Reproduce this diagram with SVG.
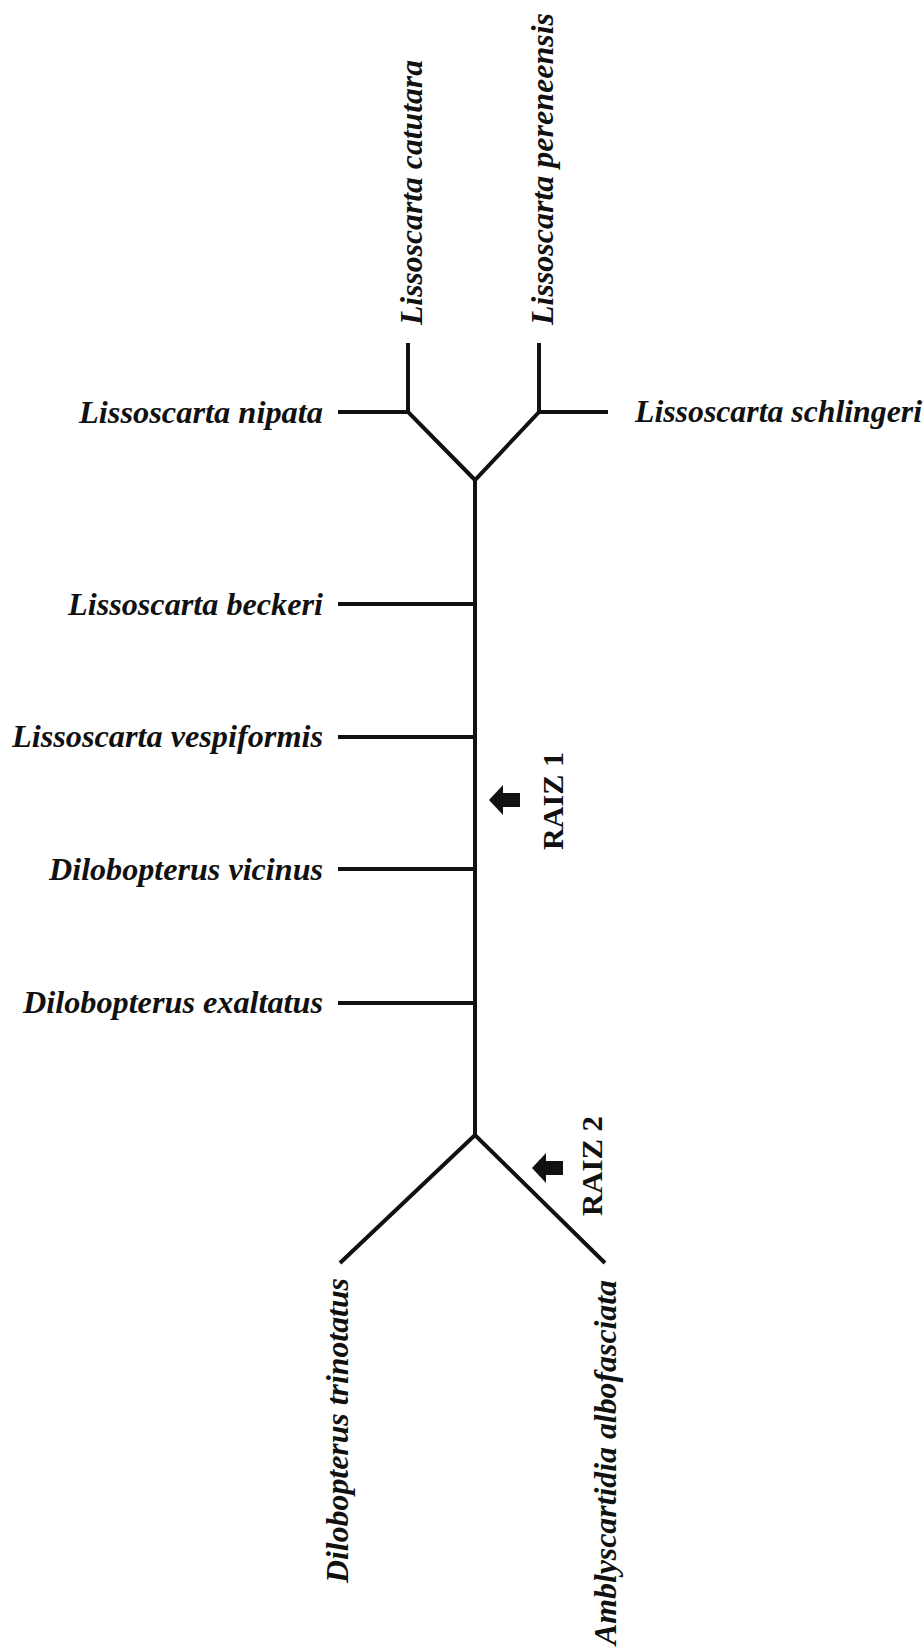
<svg xmlns="http://www.w3.org/2000/svg" width="924" height="1649" viewBox="0 0 924 1649">
  <style>
    .taxon { font-family: "Liberation Serif", "Times New Roman", serif; font-size: 32px; font-weight: bold; font-style: italic; fill: #111; }
    .root { font-family: "Liberation Serif", "Times New Roman", serif; font-size: 30px; font-weight: bold; fill: #111; }
    .branch { stroke: #111; stroke-width: 4; fill: none; stroke-linejoin: miter; stroke-linecap: butt; }
    .pointer { fill: #111; }
  </style>
  <defs>
    <!-- block arrow pointing left, tip at origin -->
    <path id="leftArrow" d="M0,0 L14,-15 L14,-7 L31,-7 L31,7 L14,7 L14,15 Z"/>
  </defs>
  <rect width="924" height="1649" fill="#fff"/>

  <!-- tree branches -->
  <g id="connectors">
    <polyline class="branch" points="408,343 408,412 475,480 539,412 539,343"/>
    <line class="branch" x1="338" y1="412" x2="408" y2="412"/>
    <line class="branch" x1="539" y1="412" x2="608" y2="412"/>
    <line class="branch" x1="475" y1="480" x2="475" y2="1135"/>
    <line class="branch" x1="338" y1="604" x2="475" y2="604"/>
    <line class="branch" x1="338" y1="737" x2="475" y2="737"/>
    <line class="branch" x1="338" y1="869" x2="475" y2="869"/>
    <line class="branch" x1="338" y1="1003" x2="475" y2="1003"/>
    <polyline class="branch" points="340,1263 475,1135 605,1263"/>
  </g>

  <!-- terminal taxa -->
  <g id="catutara">
    <text class="taxon" transform="translate(422,325) rotate(-90)" textLength="265" lengthAdjust="spacingAndGlyphs">Lissoscarta catutara</text>
  </g>
  <g id="pereneensis">
    <text class="taxon" transform="translate(553,325) rotate(-90)" textLength="312" lengthAdjust="spacingAndGlyphs">Lissoscarta pereneensis</text>
  </g>
  <g id="nipata">
    <text class="taxon" x="323" y="423" text-anchor="end" textLength="244" lengthAdjust="spacingAndGlyphs">Lissoscarta nipata</text>
  </g>
  <g id="schlingeri">
    <text class="taxon" x="635" y="422" textLength="287" lengthAdjust="spacingAndGlyphs">Lissoscarta schlingeri</text>
  </g>
  <g id="beckeri">
    <text class="taxon" x="323" y="615" text-anchor="end" textLength="255" lengthAdjust="spacingAndGlyphs">Lissoscarta beckeri</text>
  </g>
  <g id="vespiformis">
    <text class="taxon" x="323" y="747" text-anchor="end" textLength="311" lengthAdjust="spacingAndGlyphs">Lissoscarta vespiformis</text>
  </g>
  <g id="vicinus">
    <text class="taxon" x="323" y="880" text-anchor="end" textLength="274" lengthAdjust="spacingAndGlyphs">Dilobopterus vicinus</text>
  </g>
  <g id="exaltatus">
    <text class="taxon" x="323" y="1013" text-anchor="end" textLength="300" lengthAdjust="spacingAndGlyphs">Dilobopterus exaltatus</text>
  </g>
  <g id="trinotatus">
    <text class="taxon" transform="translate(348,1583) rotate(-90)" textLength="305" lengthAdjust="spacingAndGlyphs">Dilobopterus trinotatus</text>
  </g>
  <g id="albofasciata">
    <text class="taxon" transform="translate(616,1645) rotate(-90)" textLength="365" lengthAdjust="spacingAndGlyphs">Amblyscartidia albofasciata</text>
  </g>

  <!-- root positions -->
  <g id="raiz1">
    <use href="#leftArrow" class="pointer" x="489" y="800"/>
    <text class="root" transform="translate(563,850) rotate(-90)" textLength="98" lengthAdjust="spacingAndGlyphs">RAIZ 1</text>
  </g>
  <g id="raiz2">
    <use href="#leftArrow" class="pointer" x="532" y="1168"/>
    <text class="root" transform="translate(602,1216) rotate(-90)" textLength="100" lengthAdjust="spacingAndGlyphs">RAIZ 2</text>
  </g>
</svg>
